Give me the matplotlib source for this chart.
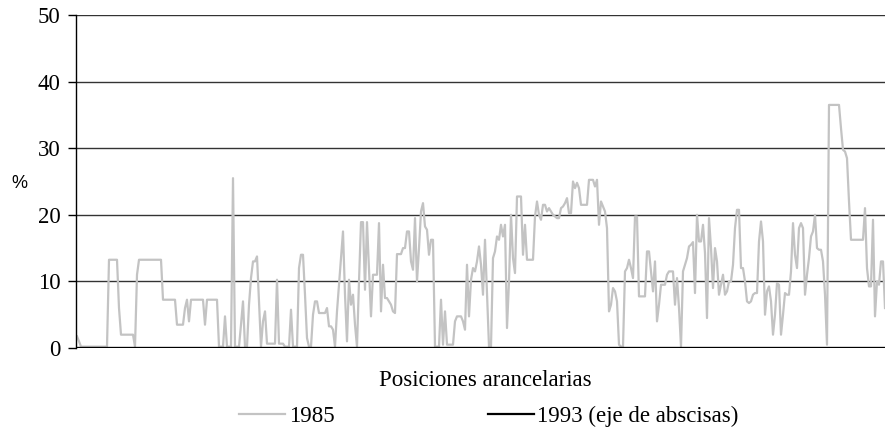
import numpy as np
import matplotlib
matplotlib.use("Agg")
import matplotlib.pyplot as plt

plt.rcParams['font.family'] = ['Liberation Serif', 'DejaVu Serif']

# arancel 1985 por posicion arancelaria (%)
y1985 = [
    1.75, 1.0, 0.2, 0.2, 0.2, 0.2, 0.2, 0.2, 0.2, 0.2, 0.2, 0.2, 0.2, 0.2, 0.2, 0.2, 13.25, 13.25, 13.25, 13.25,
    13.25, 6, 2.0, 2.0, 2.0, 2.0, 2.0, 2.0, 2.0, 0.2, 11, 13.25, 13.25, 13.25, 13.25, 13.25, 13.25, 13.25, 13.25, 13.25,
    13.25, 13.25, 13.25, 7.25, 7.25, 7.25, 7.25, 7.25, 7.25, 7.25, 3.5, 3.5, 3.5, 3.5, 6, 7.25, 4, 7.25, 7.25, 7.25,
    7.25, 7.25, 7.25, 7.25, 3.5, 7.25, 7.25, 7.25, 7.25, 7.25, 7.25, 0.2, 0.2, 0.2, 4.75, 0.2, 0.2, 0.2, 25.5, 0.2,
    0.2, 0.2, 3.5, 7, 0.2, 0.2, 6.5, 10.5, 13, 13, 13.75, 7, 0.2, 4, 5.5, 0.65, 0.65, 0.65, 0.65, 0.65,
    10.25, 0.65, 0.65, 0.65, 0.2, 0.2, 0.2, 5.75, 0.2, 0.2, 0.2, 12, 14, 14, 8, 1.5, 0.2, 0.2, 5, 7,
    7, 5.25, 5.25, 5.25, 5.25, 6, 3.25, 3.25, 2.75, 0.2, 5.5, 9.5, 13.5, 17.5, 8, 1.0, 10.25, 6.5, 8, 3.5,
    0.2, 10, 18.9, 18.9, 8.75, 18.9, 12, 4.75, 11, 11, 11, 18.75, 5.5, 12.5, 7.5, 7.5, 7, 6.5, 5.5, 5.25,
    14.1, 14.1, 14.1, 15, 15, 17.5, 17.5, 13, 11.75, 19.5, 10, 15, 20.5, 21.75, 18.25, 17.75, 14, 16.25, 16.25, 0.2,
    0.2, 0.2, 7.25, 0.5, 5.5, 0.5, 0.5, 0.5, 0.5, 4, 4.75, 4.75, 4.75, 4, 2.75, 12.5, 4.75, 10.25, 12, 11.5,
    13, 15.25, 12.5, 8, 16.25, 8, 0.2, 0.2, 13.5, 14.5, 16.75, 16.25, 18.5, 16.75, 18.5, 3, 10, 20, 13.5, 11.25,
    22.75, 22.75, 22.75, 14, 18.5, 13.25, 13.25, 13.25, 13.25, 19.75, 22, 20, 19.25, 21.5, 21.5, 20.5, 21, 20.5, 20, 19.75,
    19.5, 19.5, 21, 21.25, 21.75, 22.5, 20.25, 20.25, 25, 24, 24.8, 24, 21.5, 21.5, 21.5, 21.5, 25.25, 25.25, 25.25, 24.25,
    25.25, 18.5, 22, 21.25, 20.5, 18, 5.5, 6.5, 9, 8.5, 7, 0.5, 0.2, 0.2, 11.5, 12, 13.25, 12, 10.5, 19.75,
    19.75, 7.75, 7.75, 7.75, 7.75, 14.5, 14.5, 11.5, 8.5, 13, 4, 6.5, 9.5, 9.5, 9.5, 11, 11.5, 11.5, 11.5, 6.5,
    10.5, 6, 0.2, 11.5, 12.5, 13.5, 15.25, 15.5, 15.9, 8.25, 20, 16, 16, 18.5, 14.25, 4.5, 19.5, 15, 9, 15,
    13, 8, 9.5, 11, 8, 8.5, 10, 10, 12.5, 18, 20.75, 20.75, 12, 12, 10, 7, 6.75, 7, 8, 8.25,
    8.25, 16, 19, 16, 5, 8.5, 9.25, 7, 2, 5, 9.75, 9.5, 2, 5, 8.25, 8, 8, 11.5, 18.75, 14,
    12, 18, 18.75, 18, 8, 11, 13.5, 16.75, 17.5, 20, 15, 14.75, 14.75, 13, 8, 0.5, 36.5, 36.5, 36.5, 36.5,
    36.5, 36.5, 33, 29.75, 29.5, 28.5, 22, 16.25, 16.25, 16.25, 16.25, 16.25, 16.25, 16.25, 21, 12, 9.25, 9.25, 19.25, 4.75,
    10, 9.5, 13, 13, 6,
]
# arancel 1993: cero en todas las posiciones
y1993 = [0.0] * len(y1985)
yticks = [0, 10, 20, 30, 40, 50]

x = np.arange(len(y1985))

fig = plt.figure(figsize=(8.86, 4.43), dpi=100)
ax = fig.add_axes([76/886, 1 - 348/443, 809/886, 333/443])

for t in yticks[1:]:
    ax.axhline(t, color='#333333', lw=1.0, zorder=1)

l1, = ax.plot(x, y1985, color='#c3c3c3', lw=1.6, zorder=2, label='1985')
l2, = ax.plot(x, y1993, color='black', lw=2.4, zorder=3, label='1993 (eje de abscisas)')

ax.set_xlim(-0.5, len(y1985) - 1)
ax.set_ylim(0, 50)
ax.set_yticks(yticks)
ax.set_xticks([])
ax.tick_params(axis='y', direction='out', length=6, width=1, pad=5, labelsize=16.5)
for s in ['top', 'right', 'bottom']:
    ax.spines[s].set_visible(False)
ax.spines['left'].set_linewidth(1)

fig.text(19/886, 1 - 184/443, '%', family=['Liberation Sans', 'DejaVu Sans'],
         fontsize=13, ha='center', va='center')
fig.text(485/886, 1 - 381/443, 'Posiciones arancelarias', fontsize=16.5,
         ha='center', va='center')

leg = fig.legend(handles=[l1, l2], loc='center', bbox_to_anchor=(489/886, 1 - 416/443),
                 ncol=2, frameon=False, fontsize=16.5, handlelength=2.0,
                 handletextpad=0.15, columnspacing=6.7, borderaxespad=0)
leg.legend_handles[1].set_linewidth(1.6)

fig.savefig('out.png', dpi=100)
